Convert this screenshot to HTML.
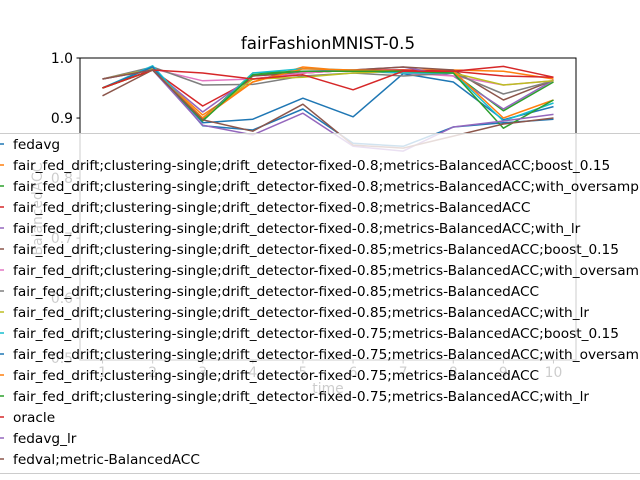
<!DOCTYPE html>
<html><head><meta charset="utf-8"><style>
body{margin:0;background:#fff;}
svg{display:block;font-family:"DejaVu Sans","Liberation Sans",sans-serif;}
</style></head><body>
<svg id="chart" width="640" height="480" viewBox="0 0 640 480">
<g id="plot"></g>
</svg>
<script>
const xValues=[1,2,3,4,5,6,7,8,9,10];
const xTicks=[1,2,3,4,5,6,7,8,9,10];
const yTicks=[0.5,0.6,0.7,0.8,0.9,1.0];
const yTickLabels=["0.5","0.6","0.7","0.8","0.9","1.0"];
const seriesNames=["fedavg",
"fair_fed_drift;clustering-single;drift_detector-fixed-0.8;metrics-BalancedACC;boost_0.15",
"fair_fed_drift;clustering-single;drift_detector-fixed-0.8;metrics-BalancedACC;with_oversampling",
"fair_fed_drift;clustering-single;drift_detector-fixed-0.8;metrics-BalancedACC",
"fair_fed_drift;clustering-single;drift_detector-fixed-0.8;metrics-BalancedACC;with_lr",
"fair_fed_drift;clustering-single;drift_detector-fixed-0.85;metrics-BalancedACC;boost_0.15",
"fair_fed_drift;clustering-single;drift_detector-fixed-0.85;metrics-BalancedACC;with_oversampling",
"fair_fed_drift;clustering-single;drift_detector-fixed-0.85;metrics-BalancedACC",
"fair_fed_drift;clustering-single;drift_detector-fixed-0.85;metrics-BalancedACC;with_lr",
"fair_fed_drift;clustering-single;drift_detector-fixed-0.75;metrics-BalancedACC;boost_0.15",
"fair_fed_drift;clustering-single;drift_detector-fixed-0.75;metrics-BalancedACC;with_oversampling",
"fair_fed_drift;clustering-single;drift_detector-fixed-0.75;metrics-BalancedACC",
"fair_fed_drift;clustering-single;drift_detector-fixed-0.75;metrics-BalancedACC;with_lr",
"oracle","fedavg_lr","fedval;metric-BalancedACC"];
const s0=[0.95,0.985,0.892,0.898,0.933,0.902,0.974,0.96,0.897,0.919];
const s1=[0.95,0.98,0.905,0.96,0.985,0.978,0.98,0.98,0.978,0.965];
const s2=[0.95,0.98,0.898,0.975,0.978,0.978,0.975,0.975,0.912,0.96];
const s3=[0.95,0.98,0.92,0.965,0.975,0.98,0.98,0.978,0.97,0.968];
const s4=[0.965,0.98,0.91,0.97,0.978,0.98,0.985,0.97,0.915,0.963];
const s5=[0.937,0.98,0.9,0.97,0.975,0.98,0.985,0.98,0.93,0.963];
const s6=[0.965,0.982,0.962,0.965,0.975,0.98,0.975,0.97,0.955,0.962];
const s7=[0.965,0.985,0.955,0.956,0.97,0.975,0.97,0.975,0.94,0.962];
const s8=[0.965,0.982,0.9,0.965,0.968,0.975,0.978,0.975,0.955,0.962];
const s9=[0.95,0.987,0.895,0.975,0.982,0.98,0.975,0.975,0.895,0.925];
const s10=[0.95,0.985,0.887,0.88,0.915,0.858,0.853,0.885,0.892,0.898];
const s11=[0.95,0.98,0.9,0.96,0.982,0.98,0.978,0.978,0.9,0.93];
const s12=[0.95,0.98,0.895,0.972,0.978,0.978,0.978,0.975,0.883,0.93];
const s13=[0.95,0.98,0.975,0.965,0.972,0.947,0.978,0.978,0.986,0.968];
const s14=[0.965,0.98,0.888,0.872,0.908,0.853,0.845,0.885,0.895,0.906];
const s15=[0.965,0.98,0.897,0.878,0.923,0.855,0.85,0.87,0.89,0.9];
const seriesValues=[s0,s1,s2,s3,s4,s5,s6,s7,s8,s9,s10,s11,s12,s13,s14,s15];
const colors=["#1f77b4","#ff7f0e","#2ca02c","#d62728","#9467bd","#8c564b","#e377c2","#7f7f7f","#bcbd22","#17becf"];

const L=80,R=576,T=58,B=360,xmin=0.55,xmax=10.45,ymin=0.497,ymax=1.0;
function xs(v){return L+(v-xmin)/(xmax-xmin)*(R-L);}
function ys(v){return T+(ymax-v)/(ymax-ymin)*(B-T);}
const NS="http://www.w3.org/2000/svg";
const g=document.getElementById('plot');
function mk(tag,attrs,parent){const e=document.createElementNS(NS,tag);for(const k in attrs)e.setAttribute(k,attrs[k]);(parent||g).appendChild(e);return e;}

const title=mk('text',{x:328,y:49,'text-anchor':'middle','font-size':'16.7'});
title.textContent='fairFashionMNIST-0.5';



seriesValues.forEach((vals,i)=>{
  const d=vals.map((v,j)=>(j?'L':'M')+xs(xValues[j]).toFixed(1)+' '+ys(v).toFixed(1)).join(' ');
  const p=mk('path',{d:d,fill:'none',stroke:colors[i%10],'stroke-width':1.5,'stroke-linejoin':'round'});
  
  
});
const frame=mk('rect',{x:L,y:T,width:R-L,height:B-T,fill:'none',stroke:'#000','stroke-width':1});



xTicks.forEach(t=>{
  mk('line',{x1:xs(t),x2:xs(t),y1:B,y2:B+3.5,stroke:'#000'});
  const tx=mk('text',{x:xs(t),y:B+17,'text-anchor':'middle','font-size':'13.9'});
  tx.textContent=String(t);
  
  
});
yTicks.forEach((t,i)=>{
  mk('line',{x1:L-3.5,x2:L,y1:ys(t),y2:ys(t),stroke:'#000'});
  const tx=mk('text',{x:L-7,y:ys(t)+5,'text-anchor':'end','font-size':'13.9'});
  tx.textContent=yTickLabels[i];
  
  
});
const xl=mk('text',{x:328,y:393,'text-anchor':'middle','font-size':'13.9'});
xl.textContent='time';


const yl=mk('text',{x:0,y:0,'text-anchor':'middle','font-size':'13.9',transform:'translate(42,209) rotate(-90)'});
yl.textContent='BalancedACC';



const lg=mk('g',{});


mk('rect',{x:-10,y:133.5,width:660,height:340,fill:'#fff','fill-opacity':0.8,stroke:'#ccc','stroke-width':1},lg);
seriesNames.forEach((n,i)=>{
  const y=144+i*21;
  mk('line',{x1:0,x2:4,y1:y,y2:y,stroke:colors[i%10],'stroke-width':1.5},lg);
  const tx=mk('text',{x:13,y:y+5,'font-size':'13.7'},lg);
  tx.textContent=n;
  
  
});
</script>
</body></html>
